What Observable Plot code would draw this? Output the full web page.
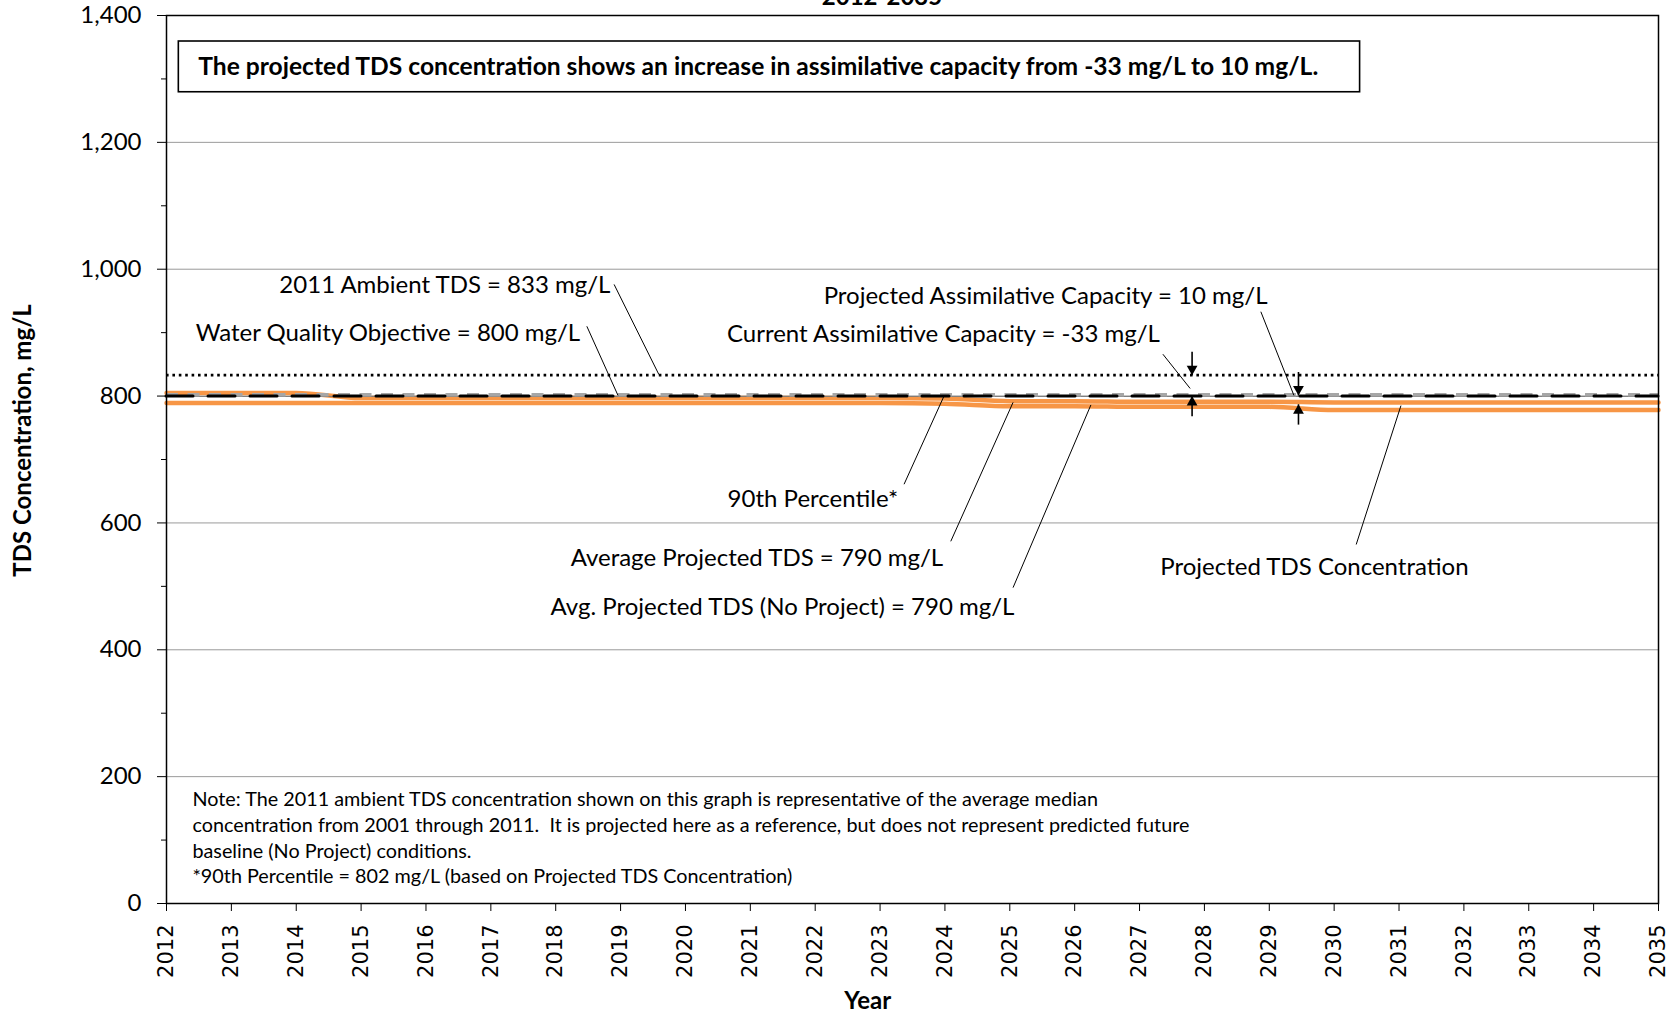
<!DOCTYPE html>
<html><head><meta charset="utf-8">
<script src="https://cdn.jsdelivr.net/npm/d3@7"></script>
<script src="https://cdn.jsdelivr.net/npm/@observablehq/plot@0.6"></script>
<style>
html,body{margin:0;padding:0;background:#fff;}
#chart svg{display:block;}
</style>
</head><body><div id="chart"></div>
<script>
// ---- data ----
const years = [2012,2013,2014,2015,2016,2017,2018,2019,2020,2021,2022,2023,2024,2025,2026,2027,2028,2029,2030,2031,2032,2033,2034,2035];
const seriesUpper = [805,805,805,797,797,797,797,797,797,797,797,797,796,792,792,791,791,791,790,790,790,790,790,790];
const seriesLower = [789,789,789,789,789,789,789,789,789,789,789,789,788,784,784,783,783,783,778,778,778,778,778,778];
const ambientTDS = 833;
const waterQualityObjective = 800;
const percentile90 = 802;
const yTicks = [0,200,400,600,800,1000,1200,1400];
const yMinorTicks = [100,300,500,700,900,1100,1300];
const gridTicks = [200,400,600,800,1000,1200];

const titleText = "2012-2035";
const boxText = "The projected TDS concentration shows an increase in assimilative capacity from -33 mg/L to 10 mg/L.";
const labels = [
  {text: "2011 Ambient TDS = 833 mg/L", x: 2013.74, y: 974},
  {text: "Water Quality Objective = 800 mg/L", x: 2012.45, y: 899},
  {text: "Projected Assimilative Capacity = 10 mg/L", x: 2022.13, y: 958},
  {text: "Current Assimilative Capacity = -33 mg/L", x: 2020.64, y: 897},
  {text: "90th Percentile*", x: 2020.65, y: 638},
  {text: "Average Projected TDS = 790 mg/L", x: 2018.23, y: 545},
  {text: "Avg. Projected TDS (No Project) = 790 mg/L", x: 2017.92, y: 467},
  {text: "Projected TDS Concentration", x: 2027.32, y: 530}
];
const leaders = [
  {x1: 2018.90, y1: 976, x2: 2019.59, y2: 834},
  {x1: 2018.48, y1: 910, x2: 2018.96, y2: 801},
  {x1: 2028.87, y1: 933, x2: 2029.38, y2: 801},
  {x1: 2027.36, y1: 866, x2: 2027.78, y2: 812},
  {x1: 2023.37, y1: 661, x2: 2023.99, y2: 801},
  {x1: 2024.09, y1: 571, x2: 2025.05, y2: 790},
  {x1: 2025.05, y1: 498, x2: 2026.25, y2: 786},
  {x1: 2030.34, y1: 566, x2: 2031.03, y2: 785}
];
const arrows = [
  {x: 2027.81, from: 870, to: 833},
  {x: 2027.81, from: 768, to: 800},
  {x: 2029.45, from: 838, to: 801},
  {x: 2029.45, from: 755, to: 787}
];
const noteLines = [
  {text: "Note: The 2011 ambient TDS concentration shown on this graph is representative of the average median", y: 164},
  {text: "concentration from 2001 through 2011.  It is projected here as a reference, but does not represent predicted future", y: 123},
  {text: "baseline (No Project) conditions.", y: 82},
  {text: "*90th Percentile = 802 mg/L (based on Projected TDS Concentration)", y: 42}
];
const box = {x1: 2012.19, x2: 2030.40, y1: 1359, y2: 1279};

// ---- build ----
const table = years.map((yr, i) => ({year: yr, upper: seriesUpper[i], lower: seriesLower[i]}));
const FONT = "Lato, 'Open Sans', sans-serif";
const orange = "#F79646";
const ups = arrows.filter(d => d.to > d.from);
const downs = arrows.filter(d => d.to < d.from);
const R = 4;
const tipOff = 2 * Math.sqrt(Math.PI * R * R / (Math.sqrt(3) * 3));

const chart = Plot.plot({
  width: 1680,
  height: 1014,
  marginTop: 15,
  marginBottom: 111,
  marginLeft: 166,
  marginRight: 22,
  style: {fontFamily: FONT, fontSize: "20px", color: "black", background: "white", overflow: "visible"},
  x: {domain: [2012, 2035], type: "linear"},
  y: {domain: [0, 1400]},
  marks: [
    Plot.gridY(gridTicks, {stroke: "#9a9a9a", strokeOpacity: 1, strokeWidth: 1}),
    Plot.rect([box], {x1: "x1", x2: "x2", y1: "y1", y2: "y2", fill: "white", stroke: "black", strokeWidth: 1.6}),
    Plot.text([boxText], {x: box.x1 + 0.3, y: (box.y1 + box.y2) / 2, text: d => d, textAnchor: "start", fontWeight: "bold", fontSize: 24.6, fontFamily: FONT}),
    Plot.line(table, {x: "year", y: "upper", stroke: orange, strokeWidth: 4.5, curve: "monotone-x"}),
    Plot.line(table, {x: "year", y: "lower", stroke: orange, strokeWidth: 4.5, curve: "monotone-x"}),
    Plot.ruleY([waterQualityObjective - 0.5], {stroke: "#777", strokeWidth: 1}),
    Plot.ruleY([percentile90], {stroke: "#a6a6a6", strokeWidth: 3.5, strokeDasharray: "12,9.5"}),
    Plot.ruleY([waterQualityObjective], {stroke: "black", strokeWidth: 3, strokeDasharray: "27,15", strokeLinecap: "round"}),
    Plot.ruleY([ambientTDS], {stroke: "black", strokeWidth: 2.6, strokeDasharray: "2.6,3.8"}),
    Plot.link(leaders, {x1: "x1", y1: "y1", x2: "x2", y2: "y2", stroke: "black", strokeWidth: 1}),
    Plot.link(arrows, {x1: "x", x2: "x", y1: "from", y2: "to", stroke: "black", strokeWidth: 1.6}),
    Plot.dot(ups, {x: "x", y: "to", symbol: "triangle", r: R, fill: "black", stroke: null, dy: tipOff}),
    Plot.dot(downs, {x: "x", y: "to", symbol: "triangle", r: R, fill: "black", stroke: null, rotate: 180, dy: -tipOff}),
    Plot.text(labels, {x: "x", y: "y", text: "text", textAnchor: "start", fontSize: 24, fontFamily: FONT}),
    Plot.text(noteLines, {x: 2012.4, y: "y", text: "text", textAnchor: "start", fontSize: 19.8, fontFamily: FONT}),
    Plot.frame({stroke: "black", strokeWidth: 1.5}),
    Plot.axisY({ticks: yTicks, tickFormat: d3.format(","), tickSize: 9, tickPadding: 16, fontSize: 24, fontFamily: FONT, label: null}),
    Plot.axisY({ticks: yMinorTicks, tickFormat: () => "", tickSize: 5, label: null}),
    Plot.axisX({ticks: years, tickFormat: d => String(d), tickRotate: -90, tickSize: 8, tickPadding: 13, fontSize: 21, fontFamily: "'DejaVu Sans', sans-serif", label: null}),
    Plot.text([titleText], {x: 2023.03, y: 1417, text: d => d, lineAnchor: "bottom", fontWeight: "bold", fontSize: 24, fontFamily: FONT}),
    Plot.text(["TDS Concentration, mg/L"], {x: 2009.80, y: 730, text: d => d, rotate: -90, fontWeight: "bold", fontSize: 24, fontFamily: FONT}),
    Plot.text(["Year"], {x: 2022.81, y: -154, text: d => d, fontWeight: "bold", fontSize: 24, fontFamily: FONT})
  ]
});
document.getElementById("chart").appendChild(chart);
</script>
</body></html>
